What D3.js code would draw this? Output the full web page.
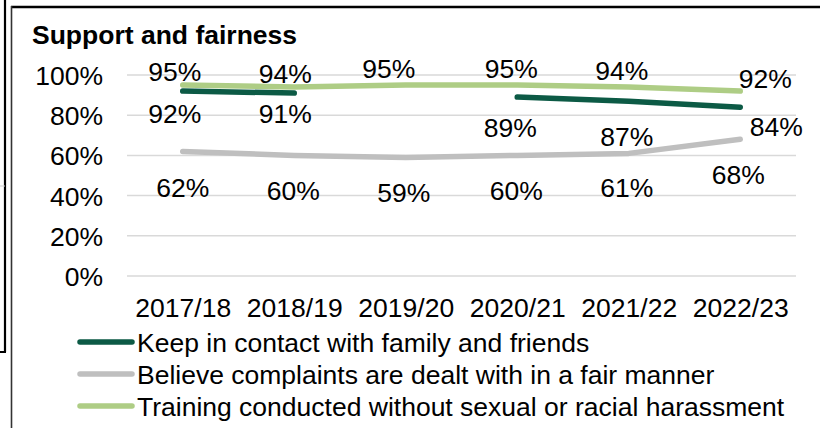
<!DOCTYPE html>
<html>
<head>
<meta charset="utf-8">
<script src="https://cdn.jsdelivr.net/npm/d3@7"></script>
<style>
  html, body { margin: 0; padding: 0; background: #fff; }
  svg { display: block; font-family: "Liberation Sans", Arial, sans-serif; }
</style>
</head>
<body>
<svg id="chart" width="820" height="428"></svg>
<script>
// Survey years
const years = ["2017/18", "2018/19", "2019/20", "2020/21", "2021/22", "2022/23"];

// Percentages per year (null = not asked that year)
const keepContact = [92, 91, null, 89, 87, 84];
const complaintsFair = [62, 60, 59, 60, 61, 68];
const trainingNoHarassment = [95, 94, 95, 95, 94, 92];

// Axis ticks
const yTicks = [0, 20, 40, 60, 80, 100];

const seriesNames = [
  "Keep in contact with family and friends",
  "Believe complaints are dealt with in a fair manner",
  "Training conducted without sexual or racial harassment"
];

const colors = ["#0c5a45", "#bfbfbf", "#aecd85"];

const FONT = 26.5;
const svg = d3.select("#chart");
const W = 820, H = 428;

// Frame lines around the chart area
svg.append("line").attr("x1", 5).attr("x2", 5).attr("y1", 0).attr("y2", 352)
  .attr("stroke", "#000").attr("stroke-width", 2.2);
svg.append("line").attr("x1", 0).attr("x2", 6).attr("y1", 352).attr("y2", 352)
  .attr("stroke", "#000").attr("stroke-width", 2);
svg.append("line").attr("x1", 0).attr("x2", 5).attr("y1", 186).attr("y2", 186)
  .attr("stroke", "#cfcfcf").attr("stroke-width", 1);
svg.append("line").attr("x1", 11).attr("x2", W).attr("y1", 7).attr("y2", 7)
  .attr("stroke", "#000").attr("stroke-width", 2.5);
svg.append("line").attr("x1", 11.5).attr("x2", 11.5).attr("y1", 6).attr("y2", H)
  .attr("stroke", "#333").attr("stroke-width", 1.6);

// Title
svg.append("text").attr("x", 32).attr("y", 44)
  .attr("font-size", FONT).attr("font-weight", "bold").attr("fill", "#000")
  .text("Support and fairness");

// Scales
const x = d3.scalePoint().domain(years).range([127, 796]).padding(0.5);
const y = d3.scaleLinear().domain([0, 100]).range([276, 75]);

// Gridlines
svg.append("g").selectAll("line").data(yTicks).join("line")
  .attr("x1", 127).attr("x2", 796)
  .attr("y1", d => y(d)).attr("y2", d => y(d))
  .attr("stroke", "#d9d9d9").attr("stroke-width", 1.5);

// Y axis
const yAxis = svg.append("g").attr("transform", "translate(103,0)")
  .call(d3.axisLeft(y).tickValues(yTicks).tickFormat(d => d + "%").tickSize(0).tickPadding(0));
yAxis.select(".domain").remove();
yAxis.selectAll("text").attr("font-size", FONT).attr("fill", "#000")
  .attr("font-family", "Liberation Sans, Arial, sans-serif").attr("dy", "0.36em");

// X axis
const xAxis = svg.append("g").attr("transform", "translate(0,298)")
  .call(d3.axisBottom(x).tickSize(0).tickPadding(0));
xAxis.select(".domain").remove();
xAxis.selectAll("text").attr("font-size", FONT).attr("fill", "#000")
  .attr("font-family", "Liberation Sans, Arial, sans-serif").attr("dy", "0.7em");

// Lines
const line = d3.line()
  .defined(d => d.v !== null)
  .x(d => x(d.year))
  .y(d => y(d.v));

const allSeries = [keepContact, complaintsFair, trainingNoHarassment].map((vals, i) => ({
  name: seriesNames[i],
  color: colors[i],
  points: vals.map((v, j) => ({ year: years[j], v }))
}));

const drawOrder = [1, 0, 2];
drawOrder.forEach(i => {
  const s = allSeries[i];
  svg.append("path").datum(s.points)
    .attr("d", line)
    .attr("fill", "none")
    .attr("stroke", s.color)
    .attr("stroke-width", 5.5)
    .attr("stroke-linecap", "round")
    .attr("stroke-linejoin", "round");
});

// Data labels: placement relative to each point (dx, dy to text centre)
const labelPlacement = [
  [[-8, 22], [-9, 20], null, [-7, 30], [-2, 35], [36, 19]],
  [[0, 36], [-1, 35], [-2, 35], [-1, 35], [-2, 34], [-2, 35]],
  [[-8, -14], [-9, -14], [-17, -17], [-6, -17], [-7, -17], [25, -13]]
];

allSeries.forEach((s, i) => {
  svg.append("g").selectAll("text")
    .data(s.points.filter(p => p.v !== null))
    .join("text")
    .attr("x", p => x(p.year) + labelPlacement[i][years.indexOf(p.year)][0])
    .attr("y", p => y(p.v) + labelPlacement[i][years.indexOf(p.year)][1])
    .attr("text-anchor", "middle")
    .attr("dy", "0.36em")
    .attr("font-size", FONT)
    .attr("fill", "#000")
    .text(p => p.v + "%");
});

// Legend
const legend = svg.append("g");
allSeries.forEach((s, i) => {
  const ly = 342 + i * 32;
  legend.append("line").attr("x1", 80).attr("x2", 132).attr("y1", ly).attr("y2", ly)
    .attr("stroke", s.color).attr("stroke-width", 5.5).attr("stroke-linecap", "round");
  legend.append("text").attr("x", 137).attr("y", ly).attr("dy", "0.36em")
    .attr("font-size", FONT).attr("fill", "#000").text(s.name);
});
</script>
</body>
</html>
